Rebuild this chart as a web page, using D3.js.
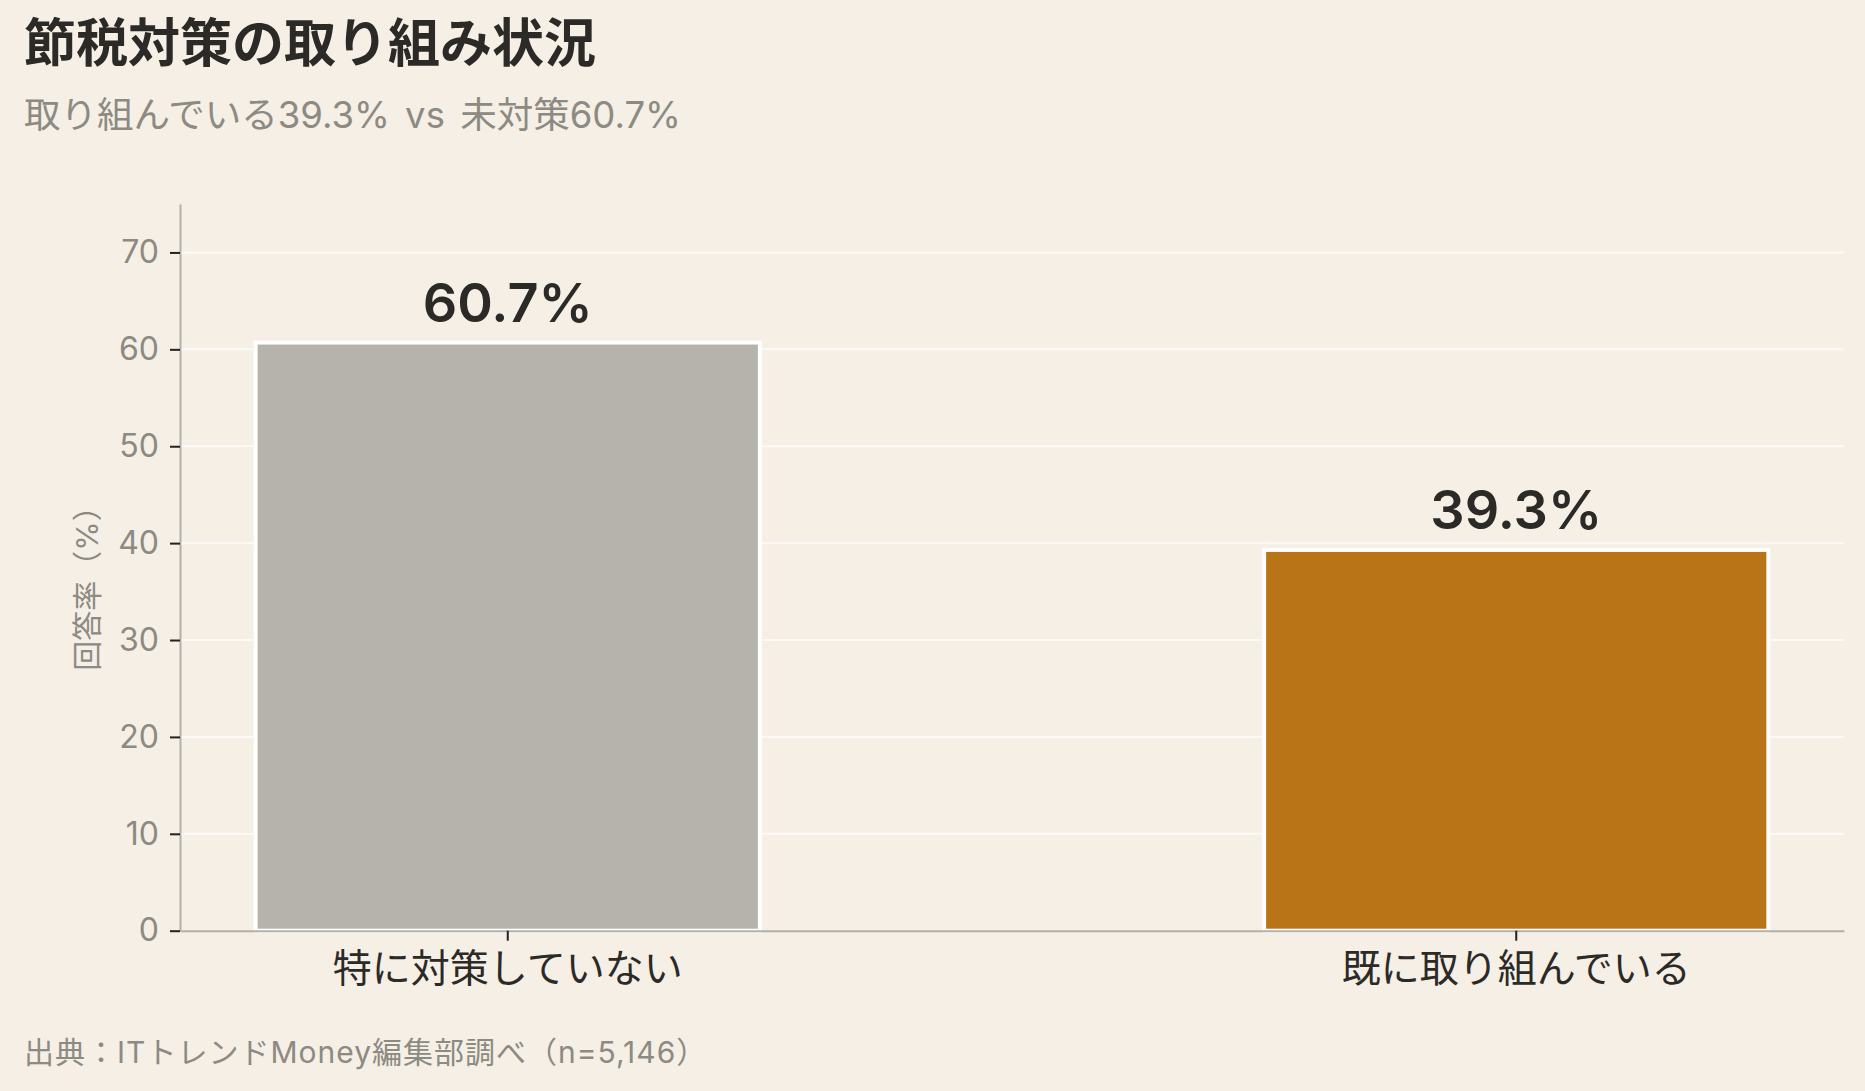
<!DOCTYPE html>
<html>
<head>
<meta charset="utf-8">
<title>節税対策の取り組み状況</title>
<script src="https://d3js.org/d3.v7.min.js"></script>
<style>
  body { margin: 0; background: #F5EFE6; }
  svg text { font-family: Inter, "Noto Sans CJK JP", sans-serif; }
</style>
</head>
<body>
<div id="chart"></div>
<script>
// data
var categories = ["特に対策していない", "既に取り組んでいる"];
var values = [60.7, 39.3];
var barColors = ["#B5B3AB", "#BA7418"];
var yTicks = [0, 10, 20, 30, 40, 50, 60, 70];
var title = "節税対策の取り組み状況";
var subtitle = "取り組んでいる39.3% vs 未対策60.7%";
var yLabel = "回答率（%）";
var source = "出典：ITトレンドMoney編集部調べ（n=5,146）";

var width = 1865, height = 1091;
var plot = {left: 180, right: 1844, top: 204, bottom: 930.7};

var svg = d3.select("#chart").append("svg")
    .attr("width", width)
    .attr("height", height)
    .style("background", "#F5EFE6");

var x = d3.scaleBand()
    .domain(categories)
    .range([plot.left, plot.right])
    .paddingInner(0.5)
    .paddingOuter(0.075);

var y = d3.scaleLinear()
    .domain([0, 75])
    .range([plot.bottom, plot.top]);

// grid lines
svg.append("g")
  .selectAll("line")
  .data(yTicks.filter(function(d) { return d > 0; }))
  .enter().append("line")
    .attr("x1", plot.left)
    .attr("x2", plot.right)
    .attr("y1", function(d) { return y(d); })
    .attr("y2", function(d) { return y(d); })
    .style("stroke", "#FCFAF6")
    .style("stroke-width", 2);

// bars
svg.append("g")
  .selectAll("rect")
  .data(values)
  .enter().append("rect")
    .attr("x", function(d, i) { return x(categories[i]); })
    .attr("y", function(d) { return y(d); })
    .attr("width", x.bandwidth())
    .attr("height", function(d) { return y(0) - y(d); })
    .style("fill", function(d, i) { return barColors[i]; })
    .style("stroke", "#FFFFFF")
    .style("stroke-width", 4);

// value labels
svg.append("g")
  .selectAll("text")
  .data(values)
  .enter().append("text")
    .attr("x", function(d, i) { return x(categories[i]) + x.bandwidth() / 2; })
    .attr("y", function(d) { return y(d) - 21; })
    .attr("text-anchor", "middle")
    .style("font-size", "54px")
    .style("font-weight", 600)
    .style("fill", "#2B2A27")
    .text(function(d) { return d.toFixed(1) + "%"; });

// y axis
var yAxis = svg.append("g")
    .attr("transform", "translate(" + plot.left + ",0)")
    .call(d3.axisLeft(y).tickValues(yTicks).tickSize(10).tickSizeOuter(0).tickPadding(11));
yAxis.select(".domain").style("stroke", "#B3B0A8").style("stroke-width", 2);
yAxis.selectAll(".tick line").style("stroke", "#222").style("stroke-width", 2);
yAxis.selectAll(".tick text")
    .style("font-size", "32px")
    .style("fill", "#8C8A82");

// x axis
var xAxis = svg.append("g")
    .attr("transform", "translate(0," + plot.bottom + ")")
    .call(d3.axisBottom(x).tickSize(10).tickSizeOuter(0));
xAxis.select(".domain").style("stroke", "#B3B0A8").style("stroke-width", 2);
xAxis.selectAll(".tick line").style("stroke", "#222").style("stroke-width", 2);
xAxis.selectAll(".tick text")
    .attr("y", 38)
    .attr("dy", "0.35em")
    .style("font-size", "39px")
    .style("fill", "#2B2A27");

// y label
svg.append("text")
    .attr("transform", "translate(87,581) rotate(-90)")
    .attr("text-anchor", "middle")
    .attr("dy", "0.35em")
    .style("font-size", "30px")
    .style("fill", "#8C8A82")
    .text(yLabel);

// title, subtitle, source
svg.append("text")
    .attr("x", 24).attr("y", 62)
    .style("font-size", "52px")
    .style("font-weight", "bold")
    .style("fill", "#2B2A27")
    .text(title);

svg.append("text")
    .attr("x", 24).attr("y", 128)
    .style("font-size", "36.5px")
    .style("word-spacing", "5px")
    .style("fill", "#8C8A82")
    .text(subtitle);

svg.append("text")
    .attr("x", 24).attr("y", 1063)
    .style("font-size", "30px")
    .style("letter-spacing", "1px")
    .style("fill", "#8C8A82")
    .text(source);
</script>
</body>
</html>
